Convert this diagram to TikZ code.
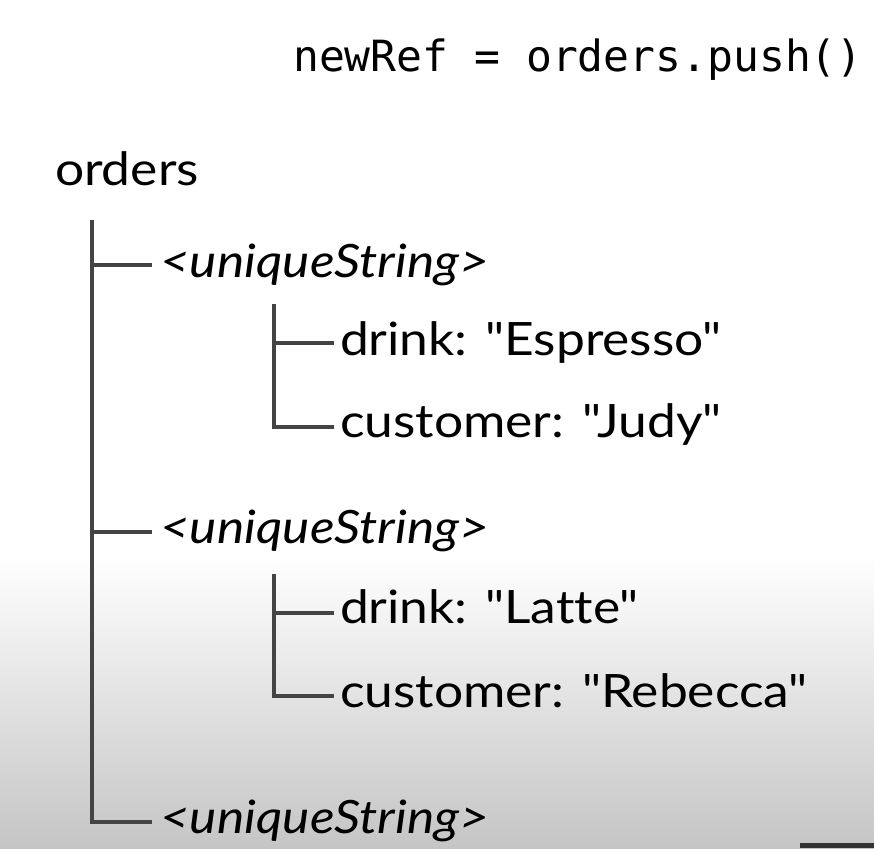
\documentclass[tikz,border=0pt]{standalone}
\usepackage{fontspec}
\setmonofont{DejaVu Sans Mono}
\newfontfamily\latofont[Ligatures=NoCommon,FakeStretch=1.12]{Lato}
\definecolor{treegray}{HTML}{444444}
\definecolor{bargray}{HTML}{333333}
\definecolor{fadegray}{HTML}{C5C5C5}
\begin{document}
\begin{tikzpicture}[x=1pt,y=1pt,
  lbl/.style={anchor=base west,inner sep=0pt,outer sep=0pt,font=\latofont\fontsize{46}{54}\selectfont,text=black},
  keylbl/.style={lbl,font=\latofont\fontsize{46}{54}\selectfont\itshape},
  code/.style={anchor=base west,inner sep=0pt,font=\fontsize{43}{50}\ttfamily},
  tree/.style={draw=treegray,line width=4pt,line cap=butt,line join=miter}]
\useasboundingbox (0,0) rectangle (874,-848);
\fill[white] (0,0) rectangle (874,-848);
\shade[top color=white,bottom color=fadegray] (0,-555) rectangle (874,-848);
\fill[bargray] (800,-843) rectangle (874,-848);

\node[code] (push) at (293,-72) {newRef = orders.push()};

\node[lbl] (orders) at (55,-185) {orders};
\node[keylbl] (u1) at (160,-277) {<uniqueString>};
\node[lbl] (d1) at (340,-355) {drink: "Espresso"};
\node[lbl] (c1) at (340,-437) {customer: "Judy"};
\node[keylbl] (u2) at (160,-543) {<uniqueString>};
\node[lbl] (d2) at (340,-623) {drink: "Latte"};
\node[lbl] (c2) at (340,-707) {customer: "Rebecca"};
\node[keylbl] (u3) at (160,-833) {<uniqueString>};

% main trunk
\coordinate (trunk) at (92,-220);
\coordinate (b1) at (152,-265);
\coordinate (b2) at (152,-532);
\coordinate (b3) at (152,-822);
\draw[tree] (trunk) |- (b3);
\draw[tree] (trunk |- b1) -- (b1);
\draw[tree] (trunk |- b2) -- (b2);

% first sub-tree
\coordinate (s1) at (274,-304);
\coordinate (s1a) at (334,-343);
\coordinate (s1b) at (334,-427);
\draw[tree] (s1) |- (s1b);
\draw[tree] (s1 |- s1a) -- (s1a);

% second sub-tree
\coordinate (s2) at (274,-574);
\coordinate (s2a) at (334,-613);
\coordinate (s2b) at (334,-696);
\draw[tree] (s2) |- (s2b);
\draw[tree] (s2 |- s2a) -- (s2a);
\end{tikzpicture}
\end{document}
